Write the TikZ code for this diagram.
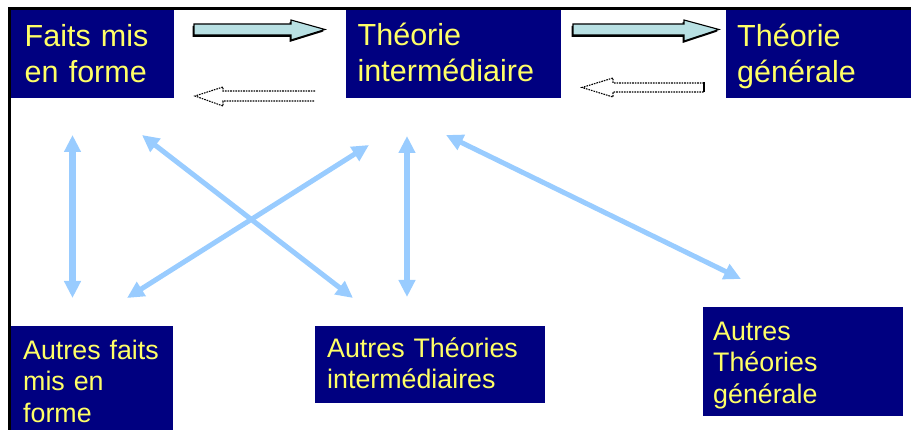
\documentclass[tikz,border=0pt]{standalone}
\usepackage{fontspec}
\setmainfont{Liberation Sans}
\usetikzlibrary{arrows.meta}
\definecolor{boxblue}{HTML}{000080}
\definecolor{txtyellow}{HTML}{FFFF66}
\definecolor{linkblue}{HTML}{99CCFF}
\definecolor{arrowfill}{HTML}{B8E0E3}
\tikzset{
  topbox/.style={fill=boxblue, text=txtyellow, anchor=north west, align=left,
    inner ysep=0pt, font=\fontsize{30.5}{36}\selectfont},
  lowbox/.style={fill=boxblue, text=txtyellow, anchor=north west, align=left,
    inner ysep=0pt, font=\fontsize{26.8}{31.5}\selectfont},
  link/.style={draw=linkblue, line width=5pt,
    {Triangle[width=16pt,length=17pt]}-{Triangle[width=16pt,length=17pt]}},
  vlink/.style={link, line width=6.5pt},
  blockarrow/.style={fill=arrowfill, draw=black, line width=1.1pt, line join=miter},
  blockshadow/.style={fill=black},
  dotarrow/.style={draw=black, line width=1.1pt, dash pattern=on 1.6pt off 1pt}
}
\begin{document}
\begin{tikzpicture}[x=1pt,y=-1pt]
\useasboundingbox (0,0) rectangle (911,430);
% frame
\draw[line width=2.5pt] (9.5,430) -- (9.5,8.7) -- (911,8.7);
% top boxes
\node[topbox, inner xsep=14pt, text width=135pt, text height=36pt, text depth=52pt]
  (faits) at (10.5,10) {Faits mis\\en forme};
\node[topbox, inner xsep=11.5pt, text width=192pt, text height=35.7pt, text depth=52.3pt]
  (theoint) at (346,10) {Théorie\\intermédiaire};
\node[topbox, inner xsep=11pt, text width=163pt, text height=36pt, text depth=52pt]
  (theogen) at (726,10) {Théorie\\générale};
% bottom boxes
\node[lowbox, inner xsep=12pt, text width=138pt, text height=33pt, text depth=71pt]
  (afaits) at (11,326) {Autres faits\\mis en\\forme};
\node[lowbox, inner xsep=12pt, text width=206pt, text height=31pt, text depth=46pt]
  (atheoint) at (315,326) {Autres Théories\\intermédiaires};
\node[lowbox, inner xsep=10pt, text width=180pt, text height=33pt, text depth=76pt]
  (atheogen) at (703,307) {Autres\\Théories\\générale};
% block arrows (right)
\fill[blockshadow] (192.5,26) -- (289.5,26) -- (289.5,22) -- (323.5,31.5) -- (289.5,42) -- (289.5,37) -- (192.5,37) -- cycle;
\draw[blockarrow] (194,24) -- (291,24) -- (291,20) -- (325,29.5) -- (291,40) -- (291,35) -- (194,35) -- cycle;
\fill[blockshadow] (571.5,26) -- (682.5,26) -- (682.5,22) -- (717.5,31.5) -- (682.5,43) -- (682.5,37) -- (571.5,37) -- cycle;
\draw[blockarrow] (573,24) -- (684,24) -- (684,20) -- (719,29.5) -- (684,41) -- (684,35) -- (573,35) -- cycle;
% dotted arrows (left)
\draw[dotarrow] (315,91) -- (223,91) -- (223,87) -- (195,96) -- (223,106) -- (223,101) -- (315,101);
\draw[dotarrow] (704,83) -- (613,83) -- (613,78) -- (582,87.5) -- (613,97) -- (613,92) -- (704,92);
\draw[black, line width=1.3pt] (704,82.5) -- (704,92.5);
% link arrows
\coordinate (v1a) at (72.5,135); \coordinate (v1b) at (72.5,298);
\coordinate (x1a) at (142,135); \coordinate (x1b) at (353,298);
\coordinate (x2a) at (369,145); \coordinate (x2b) at (127,298);
\coordinate (v2a) at (407,136); \coordinate (v2b) at (407,297);
\coordinate (da) at (446,135); \coordinate (db) at (741,279);
\draw[vlink] (v1a) -- (v1b);
\draw[link] (x1a) -- (x1b);
\draw[link] (x2a) -- (x2b);
\draw[vlink] (v2a) -- (v2b);
\draw[link] (da) -- (db);
\end{tikzpicture}
\end{document}
